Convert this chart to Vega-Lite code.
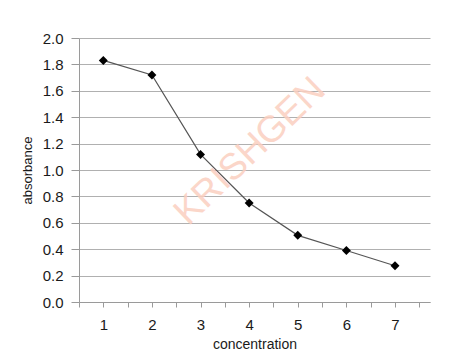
{
  "$schema": "https://vega.github.io/schema/vega-lite/v6.json",
  "width": 351,
  "height": 264,
  "autosize": {"type": "none"},
  "padding": {"left": 79, "top": 38, "right": 21, "bottom": 62},
  "background": "white",
  "config": {
    "view": {"stroke": null},
    "font": "Liberation Sans",
    "axis": {"labelFont": "Liberation Sans", "titleFont": "Liberation Sans", "titleFontWeight": "normal"}
  },
  "datasets": {
    "pts": [
      {"concentration": 1, "absorbance": 1.83},
      {"concentration": 2, "absorbance": 1.72},
      {"concentration": 3, "absorbance": 1.118},
      {"concentration": 4, "absorbance": 0.75},
      {"concentration": 5, "absorbance": 0.505},
      {"concentration": 6, "absorbance": 0.39},
      {"concentration": 7, "absorbance": 0.275}
    ],
    "wm": [{"concentration": 4.02, "absorbance": 1.14, "label": "KRISHGEN"}]
  },
  "encoding": {
    "x": {"field": "concentration", "type": "quantitative",
      "scale": {"domain": [0.5, 7.72], "nice": false, "zero": false},
      "axis": {"values": [0.5,1,1.5,2,2.5,3,3.5,4,4.5,5,5.5,6,6.5,7,7.5],
        "labelExpr": "datum.value % 1 == 0 ? datum.value : ''",
        "grid": false, "domainColor": "#9a9a9a", "tickColor": "#9a9a9a", "tickSize": 5,
        "labelFontSize": 15, "labelColor": "#1a1a1a", "labelPadding": 10,
        "title": "concentration", "titleFontSize": 14, "titleColor": "#1a1a1a", "titlePadding": 5}},
    "y": {"field": "absorbance", "type": "quantitative",
      "scale": {"domain": [0, 2], "nice": false},
      "axis": {"values": [0,0.2,0.4,0.6,0.8,1.0,1.2,1.4,1.6,1.8,2.0], "format": ".1f",
        "grid": true, "gridColor": "#b0b0b0", "domainColor": "#9a9a9a", "tickColor": "#9a9a9a", "tickSize": 8,
        "labelFontSize": 15, "labelColor": "#1a1a1a", "labelPadding": 8,
        "title": "absorbance", "titleFontSize": 13, "titleColor": "#1a1a1a", "titlePadding": 8}}
  },
  "layer": [
    {
      "data": {"name": "pts"},
      "mark": {"type": "line", "interpolate": "linear", "color": "#555555", "strokeWidth": 1.2}
    },
    {
      "data": {"name": "wm"},
      "mark": {"type": "text", "angle": 316, "fontSize": 37, "color": "#fbcfc0", "opacity": 0.85, "font": "Liberation Sans", "align": "center", "baseline": "middle"},
      "encoding": {"text": {"field": "label"}}
    },
    {
      "data": {"name": "pts"},
      "mark": {"type": "point", "shape": "diamond", "filled": true, "color": "black", "opacity": 1, "size": 80}
    }
  ]
}
